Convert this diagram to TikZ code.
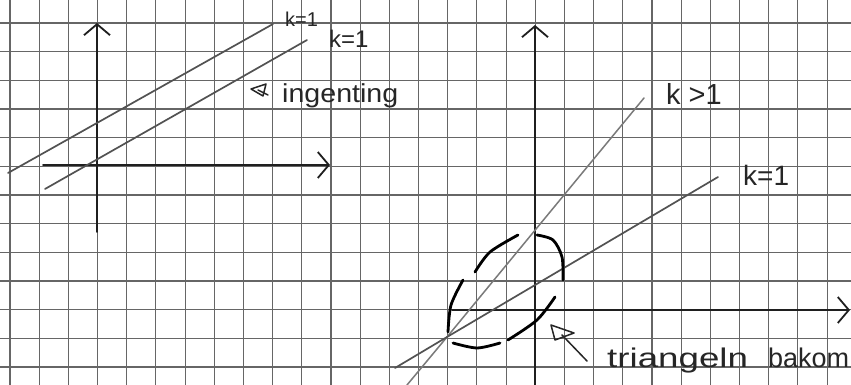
\documentclass[tikz,border=0pt]{standalone}
\usepackage{fontspec}
\setmainfont{Liberation Sans}
\usepackage{graphicx}
\usetikzlibrary{arrows.meta}
\begin{document}
\begin{tikzpicture}[x=1pt,y=-1pt,
  gridline/.style={draw=black!60, line width=1.1pt},
  axis/.style={draw=black!88, line width=1.8pt, line cap=round,
    -{Straight Barb[length=11pt,width=26pt,line width=1.8pt]}},
  pencil/.style={draw=black!68, line width=1.7pt, line cap=round},
  lightpencil/.style={draw=black!52, line width=1.5pt, line cap=round},
  ring/.style={draw=black, line width=2.8pt, line cap=round},
  hand/.style={inner sep=0pt, text=black!85},
  pen/.style={draw=black!85, line width=1.5pt, line cap=round, line join=round}
]
\useasboundingbox (0,0) rectangle (851,385);
\fill[white] (0,0) rectangle (851,385);

% grid paper
\foreach \i in {0,...,28} {
  \draw[gridline] ({10+29.18*\i},0) -- ({10+29.18*\i},385);
}
\foreach \j in {0,...,12} {
  \draw[gridline] (0,{23+28.67*\j}) -- (851,{23+28.67*\j});
}

% ---------- left plot ----------
\coordinate (LYb) at (97,232);
\coordinate (LYt) at (97,23);
\coordinate (LXl) at (43,165);
\coordinate (LXr) at (330,165);
\draw[axis] (LYb) -- (LYt);
\draw[axis] (LXl) -- (LXr);

\coordinate (A1) at (8,173);
\coordinate (A2) at (273,24);
\coordinate (B1) at (45,189);
\coordinate (B2) at (307,40);
\draw[pencil] (A1) -- (A2);
\draw[pencil] (B1) -- (B2);

\node[hand, anchor=base west, font=\fontsize{20}{20}\selectfont] (lk1) at (285,27) {k=1};
\node[hand, anchor=base west, font=\fontsize{24}{24}\selectfont] (lk2) at (329,48) {k=1};

% small arrow mark and "ingenting"
\draw[pen] (266,84) -- (251,89) -- (263,96) -- cycle;
\draw[pen] (258,90) -- (268,95);
\node[hand, anchor=base west, font=\fontsize{26}{26}\selectfont] (ing) at (282,103) {\scalebox{1.1}[1]{ingenting}};

% ---------- right plot ----------
\coordinate (RYb) at (535,385);
\coordinate (RYt) at (535,25);
\coordinate (RXl) at (452,310);
\coordinate (RXr) at (850,310);
\draw[axis] (RYb) -- (RYt);
\draw[axis] (RXl) -- (RXr);

\coordinate (P) at (447,337);
\coordinate (G1) at (407,385);
\coordinate (G2) at (644,98);
\coordinate (E1) at (395,368);
\coordinate (E2) at (718,177);
\draw[lightpencil] (G1) -- (P) -- (G2);
\draw[pencil] (E1) -- (P) -- (E2);

\node[hand, anchor=base west, font=\fontsize{29}{29}\selectfont] (kg) at (666,105) {k >1};
\node[hand, anchor=base west, font=\fontsize{28}{28}\selectfont] (ke) at (743,185) {k=1};

% dashed ring around the triangle
\draw[ring] plot[smooth] coordinates {(453,343) (477,348) (500,343)};
\draw[ring] plot[smooth] coordinates {(448,332) (451,305) (463,280)};
\draw[ring] plot[smooth] coordinates {(475,272) (490,252) (518,235)};
\draw[ring] plot[smooth] coordinates {(537,235) (553,240) (562,257) (563,280)};
\draw[ring] plot[smooth] coordinates {(555,297) (537,320) (508,340)};

% pointer to the triangle
\coordinate (T1) at (587,361);
\coordinate (T2) at (562,335);
\draw[pen] (T1) -- (T2);
\draw[pen] (551,325) -- (574,333) -- (555,340) -- cycle;

\node[hand, anchor=base west, font=\fontsize{27}{27}\selectfont] (tri) at (607,367) {\scalebox{1.36}[1]{triangeln}\hspace{20pt}bakom};
\end{tikzpicture}
\end{document}
